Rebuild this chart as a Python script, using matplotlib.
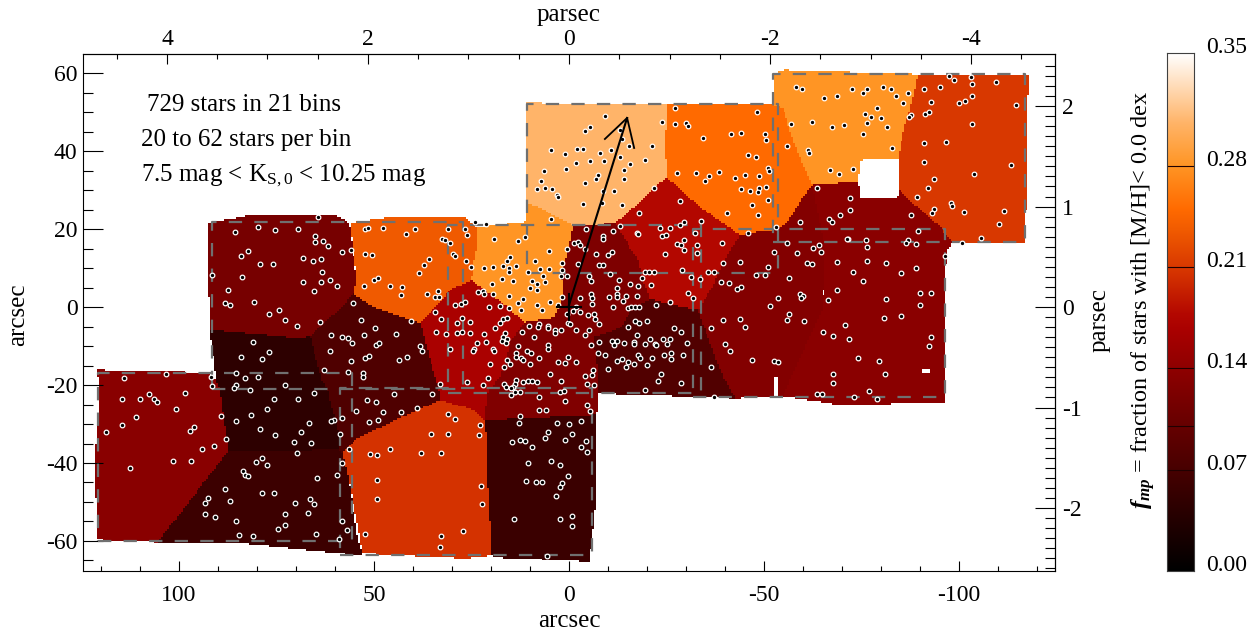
import numpy as np
import matplotlib
matplotlib.use("Agg")
import matplotlib.pyplot as plt
from matplotlib.colors import LinearSegmentedColormap
from matplotlib.path import Path
from matplotlib.ticker import MultipleLocator

plt.rcParams['font.family'] = ['Liberation Serif', 'DejaVu Serif']
plt.rcParams['mathtext.fontset'] = 'custom'
plt.rcParams['mathtext.rm'] = 'Liberation Serif'
plt.rcParams['mathtext.it'] = 'Liberation Serif:italic'
plt.rcParams['mathtext.bf'] = 'Liberation Serif:bold'
plt.rcParams['mathtext.bfit'] = 'Liberation Serif:italic:bold'
plt.rcParams['axes.unicode_minus'] = False

# bin outlines in arcsec
poly_a = [(92.6, 21.5), (81.0, 23.6), (59.5, 23.3), (56.4, 21.5), (54.4, 6.9), (55.1, 3.6), (57.9, 0.5), (66.4, -7.7), (70.8, -7.9), (92.1, -5.9)]
poly_b = [(92.1, -5.9), (70.8, -7.9), (66.4, -7.7), (63.3, -18.7), (61.8, -21.3), (61.3, -23.8), (58.7, -33.3), (59.2, -36.7), (87.4, -36.9), (89.5, -21.3), (90.5, -18.7)]
poly_c = [(121.0, -16.2), (92.6, -16.9), (90.5, -18.7), (89.5, -21.3), (87.4, -36.9), (105.4, -60.3), (121.0, -59.7), (121.5, -38.5), (120.3, -21.3)]
poly_d = [(87.4, -36.9), (59.2, -36.7), (58.2, -37.4), (56.7, -43.1), (55.4, -51.3), (54.1, -59.7), (52.8, -63.1), (54.1, -63.6), (84.4, -60.5), (105.4, -60.3)]
poly_e = [(58.2, -37.4), (54.4, -33.6), (45.9, -29.7), (33.1, -23.8), (24.6, -26.4), (21.5, -29.0), (20.8, -37.2), (20.8, -45.6), (19.7, -63.6), (26.2, -64.4), (52.8, -63.1), (56.7, -43.1)]
poly_f = [(21.5, -29.0), (-7.2, -27.7), (-7.2, -35.4), (-7.2, -47.4), (-5.4, -65.4), (19.7, -64.1), (20.8, -45.6), (20.8, -37.2)]
poly_g = [(57.9, 0.5), (55.1, 3.6), (54.1, 2.6), (50.3, 0.0), (40.3, -3.3), (38.2, -4.1), (35.6, -13.6), (33.1, -21.8), (33.1, -23.8), (45.9, -29.7), (54.4, -33.6), (58.2, -37.4), (59.2, -36.7), (58.7, -33.3), (61.3, -23.8), (61.8, -21.3), (63.3, -18.7), (66.4, -7.7)]
poly_h = [(56.2, 21.5), (45.1, 23.1), (26.7, 22.8), (23.6, 20.5), (23.3, 16.4), (24.1, 13.3), (24.9, 6.9), (29.7, 4.9), (38.2, -4.1), (40.3, -3.3), (50.3, 0.0), (54.1, 2.6), (55.1, 3.6), (54.4, 7.7)]
poly_i = [(23.6, 20.5), (10.8, 21.8), (10.8, 26.9), (7.4, 25.4), (-0.8, 21.0), (-0.8, 19.7), (0.5, 13.8), (1.8, 7.7), (1.5, 2.6), (3.6, -2.6), (11.3, -3.8), (15.9, 0.0), (24.9, 6.9), (24.1, 13.3), (23.3, 16.4)]
poly_j = [(10.8, 52.3), (-25.1, 51.8), (-24.6, 42.8), (-24.9, 33.1), (-21.5, 30.5), (-19.5, 28.2), (-14.9, 24.1), (-11.8, 21.5), (-6.2, 21.0), (-0.8, 21.0), (7.4, 25.4), (10.8, 26.9)]
poly_k = [(-25.1, 51.8), (-52.3, 51.8), (-54.9, 51.0), (-57.2, 43.6), (-59.2, 38.5), (-62.3, 31.3), (-60.0, 28.2), (-55.9, 21.5), (-52.3, 19.7), (-45.9, 19.0), (-43.8, 18.5), (-33.6, 25.6), (-26.7, 31.8), (-24.9, 33.1), (-24.6, 42.8)]
poly_l = [(-24.9, 33.1), (-26.7, 31.8), (-33.6, 25.6), (-43.8, 18.5), (-41.3, 14.6), (-36.7, 5.1), (-33.1, -0.8), (-23.3, 1.3), (-20.8, 2.1), (-19.0, 6.9), (-17.7, 12.1), (-11.8, 21.5), (-14.9, 24.1), (-19.5, 28.2), (-21.5, 30.5)]
poly_m = [(-0.8, 19.7), (-0.8, 21.0), (-6.2, 21.0), (-11.8, 21.5), (-17.7, 12.1), (-19.0, 6.9), (-20.8, 2.1), (-15.6, -1.3), (-13.1, -5.4), (-6.2, -7.9), (3.6, -2.6), (1.5, 2.6), (1.8, 7.7), (0.5, 13.8)]
poly_n = [(11.3, -3.8), (3.6, -2.6), (-6.2, -7.9), (-7.2, -13.6), (-7.7, -21.8), (-7.2, -27.7), (21.5, -29.0), (21.0, -22.1), (17.7, -17.9), (15.1, -9.2)]
poly_o = [(-6.2, -7.9), (-13.1, -5.4), (-15.6, -1.3), (-20.8, 2.1), (-23.3, 1.3), (-33.1, -0.8), (-34.1, -4.1), (-36.2, -9.2), (-39.5, -17.9), (-42.6, -23.3), (-7.7, -22.1), (-7.2, -13.6)]
poly_p = [(15.9, 0.0), (11.3, -3.8), (15.1, -9.2), (17.7, -17.9), (21.0, -22.1), (21.5, -29.0), (24.6, -26.4), (33.1, -23.8), (33.1, -21.8), (35.6, -13.6), (38.2, -4.1), (29.7, 4.9), (24.9, 6.9)]
poly_q = [(-33.1, -0.8), (-36.7, 5.1), (-41.3, 14.6), (-43.8, 18.5), (-45.9, 19.0), (-52.3, 19.7), (-55.9, 21.5), (-60.0, 28.2), (-62.3, 31.3), (-65.6, 14.6), (-65.1, 0.0), (-54.9, -22.8), (-42.6, -23.3), (-39.5, -17.9), (-36.2, -9.2), (-34.1, -4.1)]
poly_u = [(-62.3, 31.3), (-74.1, 32.1), (-74.6, 27.9), (-84.1, 27.9), (-84.6, 30.0), (-95.1, 20.5), (-98.5, 16.7), (-96.9, 14.6), (-96.7, 9.5), (-65.6, 9.5), (-65.6, 14.6)]
poly_r = [(-65.6, 9.5), (-96.7, 9.5), (-96.4, -24.6), (-68.7, -24.9), (-54.9, -22.8), (-65.1, 0.0)]
poly_s = [(-52.3, 59.7), (-54.9, 60.8), (-89.5, 59.7), (-87.9, 52.3), (-85.6, 44.6), (-84.4, 38.2), (-74.6, 37.7), (-74.1, 32.1), (-62.3, 31.3), (-59.2, 38.5), (-57.2, 43.6), (-54.9, 51.0), (-52.3, 51.8)]
poly_t = [(-89.5, 59.7), (-118.2, 59.5), (-117.4, 50.5), (-117.2, 16.7), (-100.8, 16.4), (-98.5, 16.7), (-95.1, 20.5), (-84.6, 30.0), (-84.6, 37.7), (-84.4, 38.2), (-85.6, 44.6), (-87.9, 52.3)]

bin_polys = [poly_a, poly_b, poly_c, poly_d, poly_e, poly_f, poly_g, poly_h, poly_i, poly_j, poly_k,
             poly_l, poly_m, poly_n, poly_o, poly_p, poly_q, poly_u, poly_r, poly_s, poly_t]
bin_values = [0.118, 0.045, 0.135, 0.060, 0.205, 0.058, 0.078, 0.235, 0.280, 0.310, 0.250,
              0.178, 0.124, 0.126, 0.080, 0.168, 0.130, 0.136, 0.136, 0.280, 0.210]

# gaps inside the field
gap_polys = [[(-52.6, -18.2), (-53.6, -18.2), (-53.6, -23.2), (-52.6, -23.2)],
             [(-90.6, -15.8), (-92.4, -15.8), (-92.4, -16.8), (-90.6, -16.8)]]

# pointings
field_x0 = [10.8, -52.3, 31.0, -31.8, 91.5, 120.8, 58.7]
field_x1 = [-53.6, -116.9, -33.8, -96.4, 27.2, 55.6, -5.9]
field_y0 = [8.7, 16.7, -22.1, -23.1, -21.0, -60.0, -63.6]
field_y1 = [52.1, 59.7, 21.0, 20.0, 21.8, -16.9, -20.8]

stars = [
    (64.3, 23.0), (79.8, 20.5), (85.7, 19.3), (75.4, 19.8), (69.4, 19.9), (52.3, 20.1), (51.6, 20.3), (65.1, 18.3),
    (65.2, 16.6), (63.0, 17.0), (61.7, 15.7), (58.1, 14.0), (55.9, 14.6), (52.3, 13.7), (50.5, 13.4), (82.2, 14.3),
    (84.0, 13.1), (68.1, 12.6), (65.7, 11.8), (63.7, 12.4), (79.2, 11.0), (75.8, 11.1), (63.3, 9.1), (91.6, 8.1),
    (83.9, 7.8), (68.3, 6.3), (63.7, 6.4), (61.2, 6.9), (59.4, 5.5), (49.9, 6.9), (48.9, 7.4), (52.6, 5.3),
    (87.4, 4.3), (65.4, 4.1), (88.1, 1.1), (86.8, 0.5), (80.7, 1.2), (55.3, 1.1), (74.4, -0.8), (76.9, -1.7),
    (72.8, -3.4), (69.8, -4.9), (63.8, -3.9), (53.3, -3.3), (49.8, -5.4), (61.0, -7.2), (58.1, -7.6), (56.6, -7.9),
    (55.7, -9.2), (52.5, -7.2), (49.6, -9.7), (48.7, -9.1), (81.0, -8.9), (61.4, -11.2), (76.8, -11.6), (84.1, -12.9),
    (78.7, -13.4), (52.3, -13.1), (51.3, -12.6), (55.9, -13.9), (62.9, -16.2), (56.6, -16.6), (52.8, -17.0), (52.8, -17.9),
    (85.4, -16.8), (91.9, -18.0), (79.8, -18.0), (83.0, -18.3), (103.3, -17.2), (114.0, -18.1), (91.6, -20.3), (85.4, -20.1),
    (85.8, -20.7), (72.7, -20.0), (81.7, -21.3),
    (65.3, -22.1), (98.4, -22.1), (107.7, -22.3), (114.7, -23.6), (110.0, -23.6), (106.4, -23.6), (105.6, -24.3), (75.6, -23.7),
    (69.4, -23.7), (51.7, -23.9), (49.4, -24.3), (100.7, -26.1), (77.3, -26.1), (54.6, -26.6), (111.0, -28.3), (89.2, -28.0),
    (81.6, -27.7), (85.4, -29.1), (58.2, -28.4), (60.2, -29.0), (61.0, -29.3), (51.3, -29.4), (48.9, -29.0), (66.7, -29.8),
    (114.5, -30.2), (96.2, -30.8), (97.1, -31.7), (79.2, -31.3), (118.6, -32.0), (68.6, -32.1), (75.4, -32.7), (58.6, -32.5),
    (88.0, -33.9), (70.4, -34.7), (66.1, -34.9), (91.0, -35.7), (94.2, -36.3), (56.4, -36.4), (69.8, -37.5), (50.9, -37.8),
    (49.1, -37.9), (78.6, -38.7), (101.5, -39.6), (96.9, -39.5), (80.2, -39.8), (58.3, -40.1), (77.5, -40.6), (112.5, -41.4),
    (83.5, -42.1), (83.0, -43.1), (82.2, -43.4), (59.6, -43.1), (64.5, -43.9), (49.3, -44.4), (88.3, -46.7), (78.8, -47.8),
    (75.7, -47.8), (92.6, -49.0), (93.2, -50.2), (86.8, -49.7), (66.3, -49.2), (65.3, -50.4), (70.2, -50.3), (49.2, -49.3),
    (66.9, -52.8), (72.7, -53.2), (93.3, -53.1), (90.7, -53.8), (85.4, -54.9), (58.1, -54.8), (72.8, -56.0), (74.5, -56.9),
    (57.0, -57.3), (52.2, -58.1), (84.7, -58.4), (81.0, -58.8), (64.8, -58.2), (58.9, -59.6),
    (24.2, 21.7), (21.4, 21.4), (4.5, 22.5), (47.6, 20.2), (41.7, 18.8), (39.6, 19.9), (30.9, 20.0), (26.7, 19.9),
    (26.1, 18.4), (32.5, 17.5), (31.8, 17.1), (30.4, 16.4), (19.2, 17.5), (13.2, 17.0), (11.4, 17.9), (-4.4, 20.0),
    (-11.4, 19.4), (-8.6, 18.2), (-8.6, 17.5), (-17.4, 19.0), (-17.8, 18.7), (-1.3, 16.4), (-2.3, 16.7), (-2.7, 16.0),
    (0.5, 15.0), (-4.2, 15.0), (5.2, 14.3), (29.8, 13.6), (29.3, 13.0), (-6.8, 13.5), (-10.9, 14.2), (-10.1, 13.4),
    (15.2, 12.9), (15.8, 11.7), (36.0, 12.2), (26.5, 11.7), (8.6, 11.8), (1.9, 11.2), (-2.3, 11.0), (-7.8, 10.8),
    (-8.6, 10.7), (37.2, 10.7), (38.4, 8.8), (25.2, 10.2), (21.9, 10.1), (19.5, 10.2), (16.9, 10.5), (13.7, 10.5),
    (15.3, 9.9), (15.3, 9.0), (7.4, 9.8), (5.1, 9.8), (1.7, 9.6), (10.4, 9.0), (2.0, 7.9), (0.6, 7.9),
    (6.6, 8.0), (-10.4, 8.6), (-5.2, 7.9), (-5.7, 6.6), (17.3, 7.1), (14.3, 6.6), (9.6, 6.8), (6.1, 6.5),
    (-12.8, 6.9), (45.8, 5.4), (42.9, 5.2), (19.8, 5.8), (8.1, 5.8), (10.1, 5.0), (8.1, 4.4), (-15.7, 5.8),
    (-17.8, 5.3), (-12.3, 4.9), (33.7, 4.2), (43.0, 3.0), (36.3, 3.4), (34.3, 2.5), (33.3, 2.7), (23.3, 3.8),
    (22.1, 4.1), (21.7, 3.3), (19.4, 3.3), (15.5, 2.8), (1.7, 2.5), (-2.8, 2.3), (-5.7, 3.4), (-5.8, 2.2),
    (-10.3, 2.5), (-12.2, 3.4), (-12.2, 2.7), (-14.6, 2.8), (-13.9, 1.6), (-17.5, 2.8), (29.1, 0.6), (27.8, 0.8),
    (26.6, 1.2), (11.8, 2.0), (13.0, 1.1), (4.8, 1.3), (8.1, 0.6), (2.9, 0.6), (-5.8, 0.8), (20.4, -0.1),
    (17.8, 0.3), (15.3, -0.3), (12.2, -0.7), (6.8, -0.8), (-1.7, 0.1), (-11.4, -0.1), (-15.1, -0.2), (-15.9, -0.1),
    (-16.9, -0.1), (-18.0, 0.1), (34.3, -1.3), (-1.0, -1.1), (-2.8, -1.3), (0.5, -1.9), (-4.8, -2.0), (-6.4, -1.7),
    (27.5, -2.7), (32.9, -3.1), (25.4, -3.8), (28.6, -4.2), (40.4, -3.6), (16.8, -3.1), (16.0, -2.8), (17.8, -4.2),
    (-6.7, -3.1), (-7.6, -4.4), (-17.0, -3.6), (10.3, -4.8), (7.6, -4.3), (8.0, -5.1), (5.3, -4.9), (5.3, -5.5),
    (0.2, -4.2), (-0.3, -4.3), (3.5, -6.0), (3.5, -6.6), (2.0, -6.0), (-1.9, -5.8), (-5.2, -6.0), (19.1, -5.4),
    (-15.1, -5.1), (34.0, -6.3), (31.6, -6.8), (28.6, -6.6), (27.5, -6.3), (25.4, -6.6), (21.9, -6.8), (16.4, -6.7),
    (12.1, -6.4), (-4.2, -7.1), (44.4, -6.9), (-17.4, -7.2), (16.8, -7.6), (15.9, -8.1), (17.1, -8.6), (16.1, -9.1),
    (9.1, -7.7), (23.5, -9.2), (21.2, -9.0), (-7.8, -8.9), (-12.2, -8.7), (-11.0, -8.6), (-11.6, -9.7), (-14.0, -9.3),
    (-16.6, -9.0), (-16.6, -9.4), (38.1, -10.1), (37.8, -11.3), (30.6, -10.7), (24.3, -10.7), (24.6, -11.4), (19.4, -10.8),
    (19.2, -11.3), (13.1, -10.1), (5.4, -9.8), (5.4, -10.7), (-5.7, -9.8), (10.7, -11.3), (9.7, -11.8), (13.7, -11.8),
    (13.7, -12.7), (-7.5, -11.9), (-9.2, -12.3), (43.5, -13.7), (41.5, -12.7), (15.8, -13.5), (12.4, -13.0), (11.7, -13.7),
    (7.6, -13.1), (0.2, -12.7), (-13.5, -13.2), (-12.3, -13.9), (-15.2, -14.0), (2.8, -14.2), (1.1, -14.4), (-1.8, -14.1),
    (-16.6, -14.7), (20.2, -14.7), (15.0, -14.5), (10.1, -14.7), (16.6, -15.4), (-14.5, -15.4), (-10.1, -16.0), (-6.1, -16.2),
    (4.8, -17.1), (-6.0, -17.4), (-4.0, -17.8), (20.7, -18.3), (13.5, -18.7), (2.0, -19.0), (11.7, -19.1), (10.5, -19.0),
    (9.4, -19.0), (8.3, -19.1), (33.0, -19.7), (26.2, -19.1), (16.6, -19.7), (13.8, -19.8), (22.1, -20.1), (-4.5, -19.7),
    (-6.3, -20.0), (16.2, -20.4), (14.4, -20.5), (14.8, -20.8), (12.5, -21.8), (13.8, -21.8), (14.8, -22.5), (2.2, -21.9),
    (1.4, -21.6), (44.9, -22.4), (35.2, -22.2), (7.6, -23.0),
    (47.8, -27.0), (43.0, -26.8), (39.0, -25.9), (31.1, -27.4), (29.1, -28.7), (22.9, -30.3), (35.3, -32.5), (31.1, -32.6),
    (23.0, -32.9), (46.0, -36.4), (37.9, -37.4), (32.7, -37.4), (22.6, -46.0), (22.3, -50.4), (27.1, -57.5), (32.7, -58.6),
    (33.0, -61.5), (0.9, -24.0), (7.6, -26.5), (6.0, -26.5), (-4.7, -25.0), (-5.3, -26.7), (12.5, -27.9), (12.9, -29.7),
    (3.1, -29.8), (0.0, -30.1), (-3.1, -29.3), (5.5, -32.1), (-0.8, -32.5), (6.2, -33.7), (1.0, -34.0), (12.5, -34.2),
    (11.4, -34.4), (14.5, -34.6), (9.6, -35.8), (-4.3, -34.4), (-3.1, -36.0), (-4.7, -37.1), (10.6, -40.0), (4.5, -39.5),
    (2.2, -40.5), (0.3, -43.3), (10.9, -44.7), (8.5, -44.8), (6.9, -45.0), (1.9, -45.2), (2.3, -46.2), (3.4, -48.5),
    (14.0, -54.4), (2.2, -54.4), (-0.8, -53.7), (-0.8, -56.1), (5.7, -63.9),
    (-27.3, 51.1), (-48.2, 49.9), (-9.2, 48.9), (-23.9, 47.5), (-5.5, 46.3), (-4.2, 45.2), (-13.2, 45.5), (-27.3, 47.0),
    (-30.0, 47.1), (-30.6, 46.4), (-41.6, 44.3), (-44.1, 44.7), (-50.2, 44.3), (-50.4, 42.8), (-34.4, 43.3), (-13.7, 43.1),
    (-15.5, 41.3), (-21.3, 41.3), (4.6, 40.3), (1.0, 39.3), (-2.1, 40.6), (-3.6, 40.6), (-7.9, 39.5), (-10.8, 40.3),
    (-13.2, 38.6), (-45.8, 39.1), (-47.9, 38.4), (-1.8, 37.0), (-5.5, 37.5), (-9.0, 37.4), (-15.6, 36.6), (-19.6, 37.6),
    (6.3, 35.0), (0.7, 35.3), (-7.5, 33.9), (-14.0, 35.1), (-27.8, 34.4), (-32.6, 34.5), (-38.5, 34.7), (-51.1, 35.7),
    (-51.4, 34.8), (-35.8, 33.6), (-45.1, 33.9), (-48.6, 33.5), (-42.6, 33.0), (-34.9, 32.3), (7.3, 32.4), (-6.8, 32.8),
    (-14.0, 32.9), (-4.1, 31.7), (6.2, 30.6), (8.3, 30.2), (4.3, 30.2), (-21.9, 30.5), (-44.1, 30.2), (-46.5, 29.8),
    (-48.6, 30.6), (-48.5, 29.4), (-50.4, 30.9), (-8.7, 29.7), (-11.5, 29.8), (3.2, 28.7), (2.7, 28.2), (-28.4, 27.3),
    (-51.1, 27.4), (-3.6, 26.5), (-8.5, 26.7), (-13.6, 26.2), (-46.9, 26.1), (-17.9, 24.0), (-40.6, 24.2), (-48.5, 23.6),
    (-33.8, 22.0), (-29.6, 21.9), (-28.4, 21.0), (-13.2, 20.7), (-23.4, 20.3), (-26.0, 20.4), (-53.0, 20.6), (-23.9, 18.1),
    (-24.9, 18.6), (-32.2, 18.9), (-45.8, 18.9), (-29.6, 17.3), (-39.2, 16.4), (-55.8, 16.4), (-27.7, 16.2), (-28.8, 15.8),
    (-32.8, 15.8), (-29.5, 14.7), (-32.9, 13.9), (-52.6, 14.2), (-58.4, 13.9), (-24.6, 13.5), (-43.8, 11.6), (-39.6, 11.2),
    (-51.1, 10.3), (-28.9, 9.4), (-19.4, 9.1), (-20.5, 9.1), (-21.9, 9.1), (-35.6, 8.9), (-37.3, 8.9), (-47.9, 8.1),
    (-18.6, 7.4), (-56.5, 7.5), (-31.4, 7.7), (-33.7, 7.3),
    (-97.4, 59.2), (-103.1, 58.9), (-98.7, 58.2), (-103.4, 57.1), (-109.5, 57.7), (-58.2, 56.4), (-59.7, 55.9), (-72.5, 55.8),
    (-76.3, 55.8), (-75.3, 55.0), (-80.4, 56.5), (-82.5, 55.9), (-87.0, 54.9), (-90.9, 55.8), (-95.1, 56.4), (-68.8, 54.2),
    (-65.4, 53.5), (-83.9, 54.2), (-103.2, 54.2), (-92.9, 52.6), (-85.6, 52.4), (-101.6, 52.9), (-100.1, 52.4), (-114.7, 51.8),
    (-78.9, 51.0), (-75.9, 49.4), (-77.4, 48.7), (-80.0, 48.5), (-87.7, 49.3), (-87.1, 48.8), (-91.3, 49.5), (-92.4, 50.1),
    (-57.0, 47.0), (-62.2, 47.4), (-76.5, 47.3), (-67.3, 46.2), (-70.4, 46.7), (-81.6, 46.1), (-103.3, 47.0), (-75.3, 44.3),
    (-55.9, 41.2), (-90.9, 42.1), (-96.6, 42.3), (-82.8, 40.8), (-61.2, 40.2), (-61.6, 39.4), (-91.1, 37.1), (-113.2, 36.5),
    (-66.9, 35.2), (-72.8, 35.3), (-69.1, 34.2), (-103.9, 34.2), (-93.5, 32.9), (-63.5, 30.6), (-92.0, 30.6), (-72.0, 27.9),
    (-89.1, 28.1), (-97.9, 26.8), (-98.3, 25.9), (-72.0, 25.0), (-93.7, 25.2), (-93.0, 24.0), (-101.2, 24.4), (-111.6, 24.7),
    (-69.6, 23.5), (-87.6, 23.5), (-66.7, 22.6), (-67.5, 21.8), (-59.3, 21.8), (-110.3, 21.4), (-89.4, 19.5), (-71.6, 17.4),
    (-76.2, 17.1), (-87.0, 17.3), (-86.4, 16.5), (-105.5, 17.8), (-100.7, 16.5), (-64.1, 16.0), (-89.0, 16.2), (-62.5, 15.1),
    (-76.3, 15.5),
    (-21.0, 5.6), (-30.4, 3.7), (-31.8, 2.4), (-26.0, 1.4), (-22.2, 0.4), (-38.9, 6.5), (-41.0, 6.1), (-44.1, 5.1),
    (-43.0, 4.6), (-68.6, 4.3), (-90.1, 3.5), (-92.8, 3.7), (-53.6, 2.3), (-59.2, 3.3), (-60.0, 2.9), (-59.5, 2.4),
    (-66.5, 1.9), (-81.4, 2.1), (-90.0, 0.6), (-51.6, 0.3), (-39.4, -3.2), (-43.9, -3.0), (-45.1, -5.2), (-56.5, -1.8),
    (-56.0, -3.4), (-60.3, -3.7), (-80.7, -2.7), (-85.0, -2.2), (-70.8, -4.5), (-36.5, -5.5), (-27.0, -5.3), (-28.8, -6.5),
    (-20.1, -3.5), (-17.9, -4.0), (-20.7, -8.1), (-24.2, -8.1), (-26.0, -8.3), (-25.2, -9.4), (-19.5, -9.5), (-22.0, -9.4),
    (-22.3, -9.8), (-30.3, -9.1), (-65.2, -6.5), (-67.7, -7.3), (-71.8, -8.1), (-92.7, -7.6), (-92.3, -9.9), (-40.1, -9.4),
    (-41.3, -11.4), (-24.3, -12.4), (-26.1, -11.9), (-26.2, -13.4), (-29.3, -12.4), (-21.4, -13.0), (-17.7, -12.4), (-18.1, -13.0),
    (-47.0, -13.6), (-52.6, -13.9), (-53.7, -14.0), (-74.1, -13.0), (-79.6, -13.9), (-19.9, -14.8), (-36.5, -15.5), (-23.5, -17.3),
    (-22.8, -19.0), (-28.8, -19.6), (-80.9, -17.1), (-67.7, -17.2), (-67.8, -19.4), (-77.0, -21.5), (-19.4, -21.2), (-37.3, -23.0),
    (-63.5, -22.3), (-64.8, -22.3), (-73.1, -23.0), (-79.0, -23.7), (-71.4, 17.5), (-64.5, 14.2), (-96.4, 13.2), (-61.1, 11.4),
    (-62.4, 11.1), (-68.7, 11.5), (-76.5, 11.9), (-81.4, 11.4), (-89.0, 10.1), (-85.0, 8.8), (-72.9, 9.0), (-75.3, 6.7),
    (-50.2, 8.3),
]

arrow_x = [0.0, -14.9]
arrow_y = [0.5, 48.5]
barb_x = [-9.2, -14.9, -16.7]
barb_y = [43.1, 48.5, 40.8]

top_ticks = [4, 2, 0, -2, -4]
top_minor = [4.5, 3.5, 3, 2.5, 1.5, 1, 0.5, -0.5, -1, -1.5, -2.5, -3, -3.5, -4.5]
right_ticks = [2, 1, 0, -1, -2]
right_minor = [v / 10 for v in range(-26, 25)]

cbar_ticks = [0.00, 0.07, 0.14, 0.21, 0.28, 0.358]
cbar_labels = ['0.00', '0.07', '0.14', '0.21', '0.28', '0.35']
cbar_lines = [0.07, 0.10, 0.14, 0.21, 0.28]

# colour scale
vmax = 0.358
scale_v = [0.0, 0.165, 0.178, 0.205, 0.235, 0.25, 0.28, 0.31, vmax]
scale_c = ['#000000', '#a80000', '#b40800', '#d43200', '#f05a00', '#ff6a00', '#ff9524', '#ffb468', '#ffffff']
cmap = LinearSegmentedColormap.from_list('fmp', [(v / vmax, c) for v, c in zip(scale_v, scale_c)], N=512)
cmap.set_bad((1, 1, 1, 0))

W, H = 1254, 637
fig = plt.figure(figsize=(W / 100, H / 100), dpi=100)
ax = fig.add_axes([83 / W, 1 - 571 / H, (1055 - 83) / W, (571 - 54) / H])

# bins on a coarse grid, that gives the blocky edges
gx = np.arange(-125, 125, 0.5) + 0.25
gy = np.arange(-68, 65, 0.5) + 0.25
xx, yy = np.meshgrid(gx, gy)
pts = np.column_stack([xx.ravel(), yy.ravel()])
grid = np.full(xx.size, np.nan)
for poly, val in zip(bin_polys, bin_values):
    grid[Path(poly).contains_points(pts)] = val
for poly in gap_polys:
    grid[Path(poly).contains_points(pts)] = np.nan
grid = np.ma.masked_invalid(grid.reshape(xx.shape))
ax.imshow(grid, cmap=cmap, vmin=0, vmax=vmax, origin='lower', aspect='auto', interpolation='nearest',
          extent=[gx[0] - 0.25, gx[-1] + 0.25, gy[0] - 0.25, gy[-1] + 0.25])

for x0, x1, y0, y1 in zip(field_x0, field_x1, field_y0, field_y1):
    ax.plot([x0, x1, x1, x0, x0], [y0, y0, y1, y1, y0], color='#707070', lw=1.6, dashes=(6, 5.5))

star_xy = np.array(stars)
ax.scatter(star_xy[:, 0], star_xy[:, 1], s=11, c='k', edgecolors='white', linewidths=0.9, zorder=3)

ax.plot(arrow_x, arrow_y, color='k', lw=1.5, zorder=4)
ax.plot(barb_x, barb_y, color='k', lw=1.3, zorder=4)
ax.plot([-3, 3], [0, 0], color='k', lw=1.5, zorder=4)
ax.plot([0, 0], [-3.4, 3.4], color='k', lw=1.5, zorder=4)

ax.set_xlim(124.6, -124.6)
ax.set_ylim(-67.7, 64.9)

ax.xaxis.set_major_locator(MultipleLocator(50))
ax.xaxis.set_minor_locator(MultipleLocator(10))
ax.yaxis.set_major_locator(MultipleLocator(20))
ax.yaxis.set_minor_locator(MultipleLocator(5))
ax.tick_params(axis='x', which='major', direction='in', length=7, width=0.8, labelsize=17, pad=10)
ax.tick_params(axis='x', which='minor', direction='in', length=3.6, width=0.8)
ax.tick_params(axis='y', which='major', direction='in', length=14.4, width=0.8, labelsize=17, pad=4)
ax.tick_params(axis='y', which='minor', direction='in', length=7.2, width=0.8)

as_per_pc = 25.77
top = ax.secondary_xaxis('top', functions=(lambda a: a / as_per_pc, lambda p: p * as_per_pc))
top.set_xticks(top_ticks)
top.set_xticks(top_minor, minor=True)
top.tick_params(which='major', direction='in', length=7, width=0.8, labelsize=17, pad=3)
top.tick_params(which='minor', direction='in', length=3.6, width=0.8)
right = ax.secondary_yaxis('right', functions=(lambda a: a / as_per_pc, lambda p: p * as_per_pc))
right.set_yticks(right_ticks)
right.set_yticks(right_minor, minor=True)
right.tick_params(which='major', direction='in', length=14.4, width=0.8, labelsize=17, pad=5)
right.tick_params(which='minor', direction='in', length=7.2, width=0.8)

# axis titles sit at fixed spots
fig.text(569 / W, 1 - 621 / H, 'arcsec', fontsize=18, ha='center', va='center')
fig.text(569 / W, 1 - 15 / H, 'parsec', fontsize=18, ha='center', va='center')
fig.text(18 / W, 1 - 315 / H, 'arcsec', fontsize=18, rotation=90, ha='center', va='center')
fig.text(1100 / W, 1 - 320 / H, 'parsec', fontsize=18, rotation=90, ha='center', va='center')

ax.text(108.2, 51.8, '729 stars in 21 bins', fontsize=18, va='center')
ax.text(109.7, 42.8, '20 to 62 stars per bin', fontsize=18, va='center')
ax.text(109.7, 33.6, r'7.5 mag < K$_{\mathrm{S,0}}$ < 10.25 mag', fontsize=18, va='center')

# colour bar
cax = fig.add_axes([1167 / W, 1 - 571 / H, 27 / W, 518 / H])
grad = np.linspace(0, vmax, 512).reshape(-1, 1)
cax.imshow(grad, cmap=cmap, vmin=0, vmax=vmax, origin='lower', aspect='auto', extent=[0, 1, 0, vmax])
for v in cbar_lines:
    cax.axhline(v, color='#200000', lw=0.8)
cax.set_xticks([])
cax.yaxis.tick_right()
cax.set_yticks(cbar_ticks)
cax.set_yticklabels(cbar_labels, va='baseline')
cax.tick_params(axis='y', length=0, labelsize=17, pad=9)
for s in cax.spines.values():
    s.set_linewidth(0.8)
    s.set_color('#404040')
fig.text(1143 / W, 1 - 300 / H, r'$\mathbfit{f}_{\mathbfit{mp}}$ = fraction of stars with [M/H]< 0.0 dex',
         rotation=90, fontsize=17.5, ha='center', va='center')

fig.savefig('out.png', dpi=100)
